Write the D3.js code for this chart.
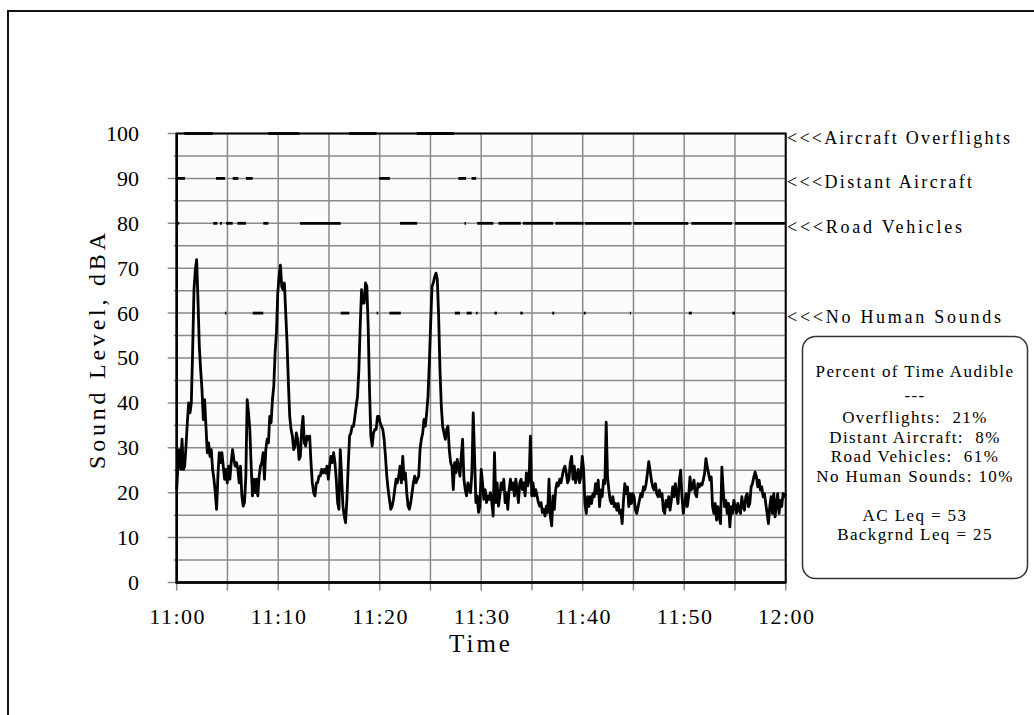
<!DOCTYPE html>
<html>
<head>
<meta charset="utf-8">
<script src="https://cdn.jsdelivr.net/npm/d3@7"></script>
<style>
    body { margin: 0; background: #fff; }
    text { font-family: "Liberation Serif", "Times New Roman", serif; fill: #000; }
</style>
</head>
<body>
<div id="chart"></div>
<script>
// Sound level samples, 11:00 to 12:00, evenly spaced (about every 8 s)
const soundLevels = [
    20.7, 26.7, 29.6, 25.2, 31.9, 25.2, 25.9, 30.4, 35.6, 40.0, 37.8, 40.0, 51.9, 65.2, 69.6, 71.9, 63.0, 52.6, 47.4, 43.0,
    36.3, 40.7, 34.8, 28.9, 31.1, 28.1, 29.6, 25.2, 23.0, 20.0, 16.3, 23.7, 28.9, 26.7, 28.9, 25.9, 23.0, 25.2, 22.2, 25.9,
    23.0, 26.7, 29.6, 27.4, 25.9, 26.7, 25.2, 22.2, 25.9, 19.3, 17.0, 17.8, 23.7, 40.7, 37.8, 34.1, 25.9, 19.3, 23.0, 20.0,
    23.0, 19.3, 23.7, 25.9, 26.7, 28.9, 23.0, 29.6, 31.9, 31.1, 37.0, 35.6, 40.7, 43.7, 51.1, 55.6, 64.4, 68.1, 70.7, 65.9,
    65.2, 66.7, 60.0, 53.3, 44.4, 37.0, 34.1, 32.6, 29.6, 30.4, 33.3, 31.9, 27.4, 28.1, 34.1, 37.0, 31.1, 30.4, 32.6, 31.9,
    32.6, 26.7, 22.2, 20.0, 19.3, 22.2, 22.2, 23.7, 23.7, 25.2, 24.4, 25.2, 24.4, 25.9, 23.0, 25.9, 28.1, 26.7, 28.9, 26.7,
    23.0, 17.8, 16.3, 29.6, 23.7, 17.0, 14.8, 13.3, 18.5, 25.9, 32.6, 33.3, 34.8, 34.8, 37.0, 39.3, 41.5, 47.4, 57.0, 65.2,
    62.2, 62.2, 66.7, 65.9, 57.0, 43.0, 32.6, 30.4, 33.3, 34.1, 34.1, 37.0, 37.0, 35.6,
    34.8, 34.1, 31.9, 28.1, 23.7, 20.7, 18.5, 16.3, 17.0, 18.5, 20.7, 23.0, 22.2, 23.7, 25.9, 22.2, 28.1, 23.0, 24.4, 20.0,
    17.0, 16.3, 17.8, 20.0, 22.2, 23.7, 22.2, 23.0, 23.7, 29.6, 31.9, 33.3, 36.3, 34.8, 37.8, 41.5, 48.9, 57.8, 65.9, 66.7,
    68.1, 68.9, 67.4, 59.3, 47.4, 39.3, 34.8, 33.3, 31.9, 34.1, 34.8, 29.6, 26.7, 25.9, 20.7, 26.7, 24.4, 27.4, 25.9, 23.7,
    28.1, 31.9, 23.0, 20.7, 19.3, 22.2, 20.7, 20.0, 24.4, 37.8, 28.1, 17.8, 19.3, 15.6, 17.0, 25.2, 22.2, 18.5, 20.7, 17.8,
    19.3, 18.5, 20.0, 17.8, 14.8, 28.9, 17.8, 22.2, 17.0, 19.3, 22.2, 20.7, 23.0, 17.8, 20.0, 16.3, 20.7, 23.0, 20.7, 22.2,
    19.3, 23.0, 20.7, 17.8, 22.2, 23.0, 20.7, 22.2, 19.3, 24.4, 21.5, 23.0, 32.6, 19.3, 22.2, 19.3, 20.7, 19.3, 17.8, 17.0,
    17.8, 15.6, 16.3, 14.8, 17.0, 15.6, 23.0, 14.8, 12.6, 19.3, 16.3, 20.7, 22.2, 21.5, 23.0, 22.2, 23.7, 25.2, 25.9, 24.4,
    22.2, 23.0, 26.7, 28.1, 23.0, 25.9, 22.2, 23.7, 25.2, 22.2, 23.7, 28.1, 25.2,
    17.6, 15.4, 19.1, 16.9, 19.1, 17.6, 19.8, 19.1, 22.0, 19.8, 22.8, 16.9, 20.6, 19.1, 22.8, 22.0, 35.7, 23.5, 20.6, 18.3,
    17.6, 19.1, 16.9, 17.6, 16.1, 17.6, 15.4, 16.1, 13.1, 18.3, 22.0, 19.8, 21.3, 16.9, 19.8, 17.6, 19.8, 19.1, 16.1, 15.4,
    16.9, 18.3, 19.8, 19.1, 21.3, 20.6, 22.0, 24.3, 26.9, 25.0, 22.8, 21.3, 20.6, 22.0, 19.8, 19.1, 20.6, 19.1, 19.8, 16.1,
    15.4, 18.3, 16.9, 19.1, 16.1, 18.3, 21.3, 19.1, 22.0, 19.8, 17.6, 22.8, 25.0, 19.1, 15.4, 17.6, 19.8, 16.9, 19.1, 23.5,
    20.6, 21.3, 22.8, 19.8, 19.1, 22.0, 21.3, 22.0, 21.7, 22.8, 24.3, 27.6, 25.7, 24.3, 22.8, 23.5, 16.9, 15.4, 17.6, 13.9,
    16.9, 14.6, 13.1, 25.7, 20.6, 16.9, 18.3, 15.4, 17.6, 12.4, 16.9, 15.4, 18.3, 16.9, 15.4, 17.6, 16.1, 15.4, 19.1, 16.9,
    16.1, 19.1, 19.8, 16.9, 17.6, 21.3, 22.0, 23.5, 24.6, 23.5, 21.3, 22.8, 20.6, 21.3, 19.1, 19.8, 17.6, 15.4, 13.1, 16.9,
    19.1, 15.4, 19.8, 14.6, 17.6, 19.8, 15.4, 18.3, 16.9, 19.8, 19.1, 19.8
];

// Audible periods, minutes after 11:00 [start, end]
const overflights = [[0.75, 3.55], [9.03, 12.08], [17.0, 19.7], [23.65, 27.3]];
const distantAircraft = [[0.1, 0.82], [3.87, 4.76], [5.52, 6.07], [6.83, 7.49], [19.96, 21.0], [27.75, 28.5], [29.05, 29.5]];
const roadVehicles = [[0.1, 0.25], [3.6, 4.0], [4.27, 4.45], [4.86, 5.52], [5.97, 6.83], [8.53, 9.03], [12.15, 16.16],
    [22.0, 23.7], [28.35, 28.5], [29.6, 31.2], [31.7, 33.9], [34.1, 37.1], [37.3, 40.1], [40.2, 44.8], [45.0, 50.4],
    [50.7, 54.7], [55.0, 60.0]];
const noHumanSounds = [[4.75, 4.9], [7.49, 8.53], [16.16, 17.0], [19.7, 19.85], [20.95, 22.07], [27.4, 27.9],
    [28.57, 29.06], [29.5, 29.65], [31.3, 31.55], [33.85, 34.1], [37.0, 37.2], [40.1, 40.3], [44.65, 44.75],
    [50.45, 50.75], [54.75, 55.0]];

const eventLevels = [100, 90, 80, 60];
const eventLabels = ["<<<Aircraft Overflights", "<<<Distant Aircraft", "<<<Road Vehicles", "<<<No Human Sounds"];
const eventPeriods = [overflights, distantAircraft, roadVehicles, noHumanSounds];

const summaryLines = ["Percent of Time Audible", "---", "Overflights:  21%", "Distant Aircraft:  8%",
    "Road Vehicles:  61%", "No Human Sounds: 10%", "", "AC Leq = 53", "Backgrnd Leq = 25"];

const config = {
    WIDTH: 1034,
    HEIGHT: 715,
    LEFT: 176.7,
    RIGHT: 785.7,
    TOP: 133.5,
    BOTTOM: 582.5,
    GRID: '#8a8a8a',
};

// label widths measured on the reference
const eventLabelWidths = [223, 185, 175, 214];

const start = new Date(2000, 0, 1, 11, 0);
const end = new Date(2000, 0, 1, 12, 0);
const atMinute = m => new Date(start.getTime() + m * 60000);

const svg = d3.select('#chart')
    .append('svg')
    .attr('width', config.WIDTH)
    .attr('height', config.HEIGHT);

// outer frame (runs off the right and bottom edges)
svg.append('rect')
    .attr('x', 8).attr('y', 11)
    .attr('width', 1060).attr('height', 800)
    .attr('fill', 'none').attr('stroke', '#111').attr('stroke-width', 2);

const x = d3.scaleTime().domain([start, end]).range([config.LEFT, config.RIGHT]);
const y = d3.scaleLinear().domain([0, 100]).range([config.BOTTOM, config.TOP]);

svg.append('rect')
    .attr('x', config.LEFT).attr('y', config.TOP)
    .attr('width', config.RIGHT - config.LEFT).attr('height', config.BOTTOM - config.TOP)
    .attr('fill', '#fcfcfc');

const fiveMin = d3.timeMinute.every(5).range(start, d3.timeMinute.offset(end, 1));
const fiveDb = d3.range(0, 101, 5);

// grid
svg.append('g').selectAll('line')
    .data(fiveMin)
    .join('line')
    .attr('x1', d => x(d)).attr('x2', d => x(d))
    .attr('y1', config.TOP).attr('y2', config.BOTTOM + 8)
    .attr('stroke', config.GRID).attr('stroke-width', 1.5);

svg.append('g').selectAll('line')
    .data(fiveDb)
    .join('line')
    .attr('x1', d => d % 10 === 0 ? config.LEFT - 9 : config.LEFT - 3)
    .attr('x2', config.RIGHT)
    .attr('y1', d => y(d)).attr('y2', d => y(d))
    .attr('stroke', config.GRID).attr('stroke-width', 1.5);

// plot border
svg.append('rect')
    .attr('x', config.LEFT).attr('y', config.TOP)
    .attr('width', config.RIGHT - config.LEFT).attr('height', config.BOTTOM - config.TOP)
    .attr('fill', 'none').attr('stroke', '#000').attr('stroke-width', 2);
svg.append('path')
    .attr('d', `M${config.LEFT},${config.TOP}V${config.BOTTOM}H${config.RIGHT}`)
    .attr('fill', 'none').attr('stroke', '#000').attr('stroke-width', 2.5);

// y tick labels
svg.append('g').selectAll('text')
    .data(d3.range(0, 101, 10))
    .join('text')
    .attr('x', 139).attr('y', d => y(d)).attr('dy', '0.34em')
    .attr('text-anchor', 'end')
    .style('font-size', '22px')
    .text(d => d);

// x tick labels
const fmt = d3.timeFormat('%H:%M');
svg.append('g').selectAll('text')
    .data(fiveMin.filter(d => d.getMinutes() % 10 === 0))
    .join('text')
    .attr('x', d => x(d) + 1).attr('y', 624)
    .attr('text-anchor', 'middle')
    .style('font-size', '22px').style('letter-spacing', '1.5px')
    .text(d => fmt(d));

svg.append('text')
    .attr('x', 481).attr('y', 652)
    .attr('text-anchor', 'middle')
    .style('font-size', '25px').style('letter-spacing', '3px')
    .text('Time');

svg.append('text')
    .attr('transform', 'translate(105,351) rotate(-90)')
    .attr('text-anchor', 'middle')
    .attr('textLength', 236).attr('lengthAdjust', 'spacing')
    .style('font-size', '24px')
    .text('Sound Level, dBA');

// audible period bars
eventPeriods.forEach((periods, i) => {
    svg.append('g').selectAll('line')
        .data(periods)
        .join('line')
        .attr('x1', d => x(atMinute(d[0]))).attr('x2', d => x(atMinute(d[1])))
        .attr('y1', y(eventLevels[i])).attr('y2', y(eventLevels[i]))
        .attr('stroke', '#000').attr('stroke-width', 2.8);
});

svg.append('g').selectAll('text')
    .data(eventLabels)
    .join('text')
    .attr('x', 787).attr('y', (d, i) => y(eventLevels[i]) + 10)
    .attr('textLength', (d, i) => eventLabelWidths[i]).attr('lengthAdjust', 'spacing')
    .style('font-size', '18px')
    .text(d => d);

// sound level line
const step = 60 / (soundLevels.length - 1);
const line = d3.line()
    .x((d, i) => x(atMinute(i * step)))
    .y(d => y(d));

svg.append('path')
    .datum(soundLevels)
    .attr('d', line)
    .attr('fill', 'none')
    .attr('stroke', '#000')
    .attr('stroke-width', 2.8)
    .attr('stroke-linejoin', 'round');

// summary box
svg.append('rect')
    .attr('x', 802.5).attr('y', 336.5)
    .attr('width', 225).attr('height', 242).attr('rx', 13)
    .attr('fill', '#fff').attr('stroke', '#333').attr('stroke-width', 1.5);

const summaryY = [377, 401, 423, 442.5, 462, 481.5, 501, 520.5, 540];
svg.append('g').selectAll('text')
    .data(summaryLines)
    .join('text')
    .attr('x', 915).attr('y', (d, i) => summaryY[i])
    .attr('text-anchor', 'middle')
    .style('font-size', '17px').style('letter-spacing', '1.4px').style('white-space', 'pre')
    .text(d => d);
</script>
</body>
</html>
